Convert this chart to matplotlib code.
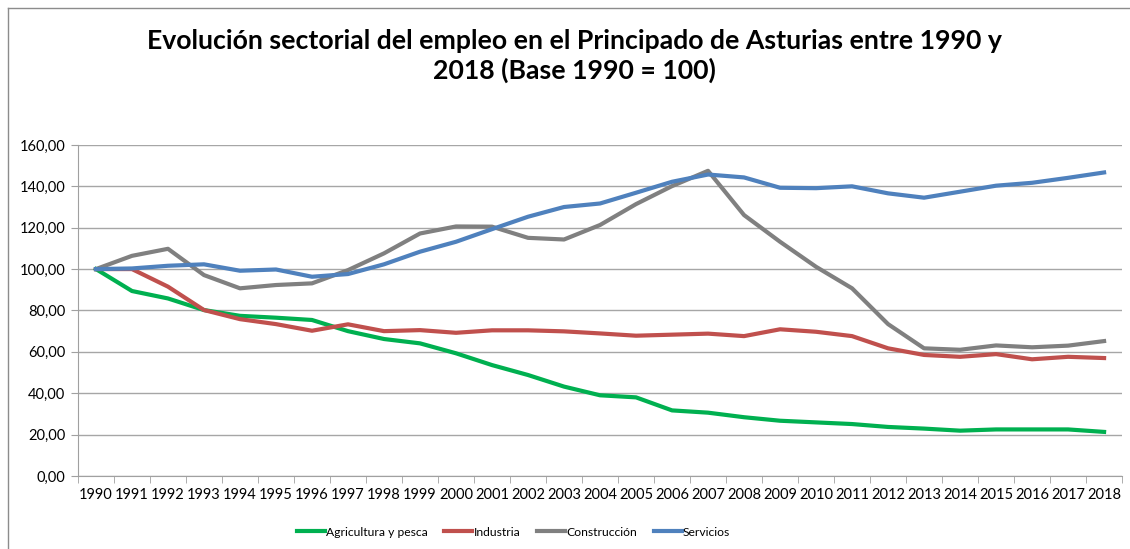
import matplotlib
matplotlib.use("Agg")
import matplotlib.pyplot as plt
from matplotlib.lines import Line2D
from matplotlib.ticker import FuncFormatter

years = list(range(1990, 2019))

agricultura = [100.0, 89.4, 85.8, 80.2, 77.4, 76.5, 75.4, 70.0, 66.2, 64.1,
               59.3, 53.6, 48.8, 43.2, 39.0, 38.0, 31.7, 30.6, 28.4, 26.7,
               25.9, 25.1, 23.7, 22.9, 21.9, 22.5, 22.5, 22.5, 21.3]
industria = [100.0, 100.0, 91.5, 80.2, 75.8, 73.4, 70.2, 73.3, 70.0, 70.5,
             69.2, 70.4, 70.4, 69.9, 68.9, 67.8, 68.3, 68.8, 67.6, 70.9,
             69.7, 67.6, 61.7, 58.5, 57.6, 58.9, 56.4, 57.6, 57.0]
construccion = [100.0, 106.4, 109.8, 97.1, 90.7, 92.3, 93.1, 99.5, 107.6, 117.2,
                120.6, 120.5, 115.1, 114.3, 121.3, 131.4, 140.1, 147.5, 126.1, 113.2,
                101.1, 90.7, 73.4, 61.7, 61.0, 63.1, 62.2, 63.0, 65.2]
servicios = [100.0, 100.3, 101.6, 102.3, 99.2, 99.8, 96.3, 97.6, 102.3, 108.4,
             113.2, 119.3, 125.3, 130.0, 131.7, 136.9, 142.2, 145.7, 144.3, 139.3,
             139.1, 140.0, 136.6, 134.5, 137.4, 140.3, 141.7, 144.1, 146.7]

series = [
    ("Agricultura y pesca", agricultura, "#00B050"),
    ("Industria", industria, "#C0504D"),
    ("Construcción", construccion, "#808080"),
    ("Servicios", servicios, "#4F81BD"),
]

plt.rcParams["font.family"] = ["Lato", "DejaVu Sans"]

fig = plt.figure(figsize=(11.3, 5.49), dpi=100)
ax = fig.add_axes([0.069, 0.133, 0.924, 0.603])

x = list(range(len(years)))
for name, vals, color in series:
    ax.plot(x, vals, color=color, linewidth=3, label=name, solid_joinstyle="round")

ax.set_xlim(-0.5, len(years) - 0.5)
ax.set_ylim(0, 160)
ax.set_yticks(range(0, 161, 20))
ax.yaxis.set_major_formatter(FuncFormatter(lambda v, p: f"{v:.2f}".replace(".", ",")))
ax.set_xticks(x)
ax.set_xticklabels([str(y) for y in years])
ax.set_xticks([i - 0.5 for i in range(len(years) + 1)], minor=True)
ax.tick_params(axis="x", which="major", length=0, labelsize=10.5, pad=9)
ax.tick_params(axis="x", which="minor", length=5, color="#A0A0A0")
ax.tick_params(axis="y", length=5, color="#A0A0A0", labelsize=10.5, pad=4)

ax.grid(axis="y", color="#A6A6A6", linewidth=1)
ax.set_axisbelow(True)
for s in ["top", "right"]:
    ax.spines[s].set_visible(False)
for s in ["left", "bottom"]:
    ax.spines[s].set_color("#A0A0A0")

fig.text(0.508, 0.898, "Evolución sectorial del empleo en el Principado de Asturias entre 1990 y\n2018 (Base 1990 = 100)",
         ha="center", va="center", fontsize=19.2, fontweight="bold", linespacing=1.25)

ax.legend(loc="upper center", bbox_to_anchor=(0.417, -0.12), ncol=4, frameon=False,
          fontsize=8.7, handlelength=2.3, handletextpad=0.1, columnspacing=1.4)

# chart border (left and top edges visible)
fig.add_artist(Line2D([0.007, 0.007], [0, 0.985], color="#8C8C8C", linewidth=1))
fig.add_artist(Line2D([0.007, 1], [0.985, 0.985], color="#8C8C8C", linewidth=1))

fig.savefig("out.png", dpi=100)
